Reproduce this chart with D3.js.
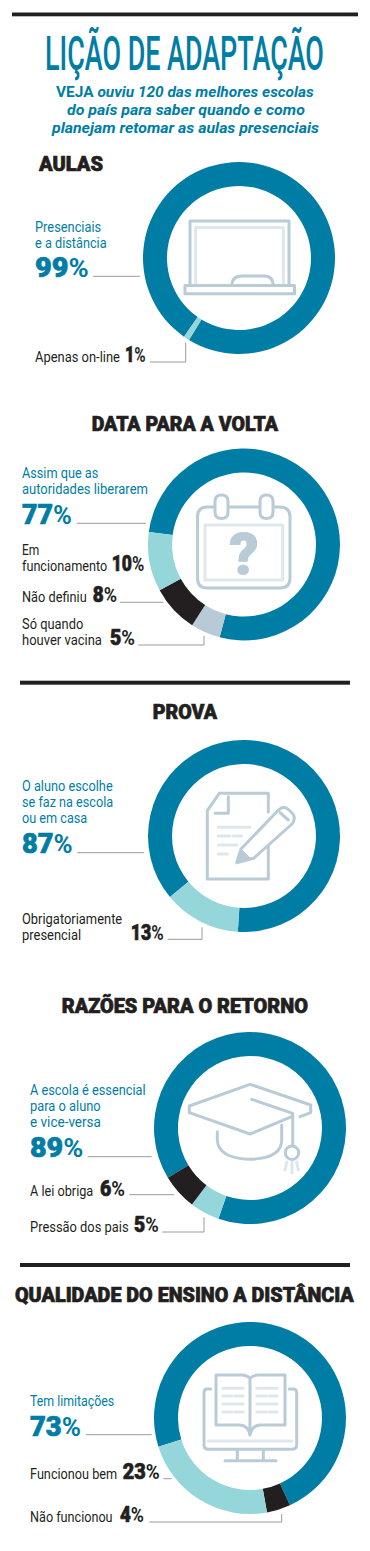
<!DOCTYPE html>
<html>
<head>
<meta charset="utf-8">
<script src="https://cdn.jsdelivr.net/npm/d3@7"></script>
<style>
html,body{margin:0;padding:0;background:#fff;}
svg{display:block;}
</style>
</head>
<body>
<script>
// values, in clockwise order round each ring
var aulasCats = [["Presenciais","e a distância"],["Apenas on-line"]];
var aulasValues = [99,1];
var voltaCats = [["Assim que as","autoridades liberarem"],["Só quando","houver vacina"],["Não definiu"],["Em","funcionamento"]];
var voltaValues = [77,5,8,10];
var provaCats = [["O aluno escolhe","se faz na escola","ou em casa"],["Obrigatoriamente","presencial"]];
var provaValues = [87,13];
var razoesCats = [["A escola é essencial","para o aluno","e vice-versa"],["Pressão dos pais"],["A lei obriga"]];
var razoesValues = [89,5,6];
var qualidadeCats = [["Tem limitações"],["Não funcionou"],["Funcionou bem"]];
var qualidadeValues = [73,4,23];
var sectionTitles = ["AULAS","DATA PARA A VOLTA","PROVA","RAZÕES PARA O RETORNO","QUALIDADE DO ENSINO A DISTÂNCIA"];

const TEAL = "#007da5", AQUA = "#94d6da", INK = "#231f20", PALE = "#b8cad5";
const ICON = "#b9cbd6", ICONLIGHT = "#dde7ec", RULE = "#8e9092";
const OUTER = 96, INNER = 72;

var svg = d3.select("body").append("svg").attr("width",370).attr("height",1551);

// draw a text, then squeeze it sideways to fit the column from x to x2
var fit = function(sel,x,x2,y){
	var w = sel.node().getComputedTextLength();
	sel.attr("transform",`translate(${x},${y}) scale(${(x2-x)/w},1)`);
	return sel;
};

var label = function(word,x,x2,y,colour){
	var t = svg.append("text").text(word)
		.attr("font-family","Roboto").attr("font-weight",400)
		.attr("font-size",15.5).attr("fill",colour);
	fit(t,x,x2,y);
};

var percent = function(value,x,x2,y,size,colour){
	var t = svg.append("text").attr("font-family","Roboto").attr("fill",colour);
	t.append("tspan").text(value).attr("font-weight",900).attr("font-size",size)
		.attr("stroke",colour).attr("stroke-width",0.7);
	t.append("tspan").text("%").attr("font-weight",700).attr("font-size",size*0.95);
	fit(t,x,x2,y);
};

var heading = function(word,x,x2,y){
	var t = svg.append("text").text(word)
		.attr("font-family","Roboto").attr("font-weight",900)
		.attr("font-size",20).attr("fill",INK)
		.attr("stroke",INK).attr("stroke-width",0.7);
	fit(t,x,x2,y);
};

var bar = function(x,x2,y,h){
	svg.append("rect").attr("x",x).attr("y",y).attr("width",x2-x).attr("height",h).attr("fill",INK);
};

var leaderLine = d3.line();
var leader = function(pts){
	svg.append("path").attr("d",leaderLine(pts))
		.attr("fill","none").attr("stroke",RULE).attr("stroke-width",0.9);
};

var ring = function(cx,cy,values,colours,startDeg){
	var start = startDeg*Math.PI/180;
	var pie = d3.pie().sort(null).startAngle(start).endAngle(start+2*Math.PI);
	var arc = d3.arc().innerRadius(INNER).outerRadius(OUTER);
	var colour = d3.scaleOrdinal().domain(d3.range(values.length)).range(colours);
	svg.append("g").attr("transform",`translate(${cx},${cy})`)
		.selectAll("path").data(pie(values)).join("path")
		.attr("d",arc).attr("fill",function(d,i){return colour(i)});
};

// one block per slice: the line columns [x,x2,y], the number [x,x2,y,size] and the leader
var drawSlice = function(cats,value,place,colour){
	cats.forEach(function(line,i){
		label(line,place.lines[i][0],place.lines[i][1],place.lines[i][2],colour);
	});
	percent(value,place.num[0],place.num[1],place.num[2],place.num[3],colour);
	if(place.leader) leader(place.leader);
};

var drawChart = function(cats,values,places,colour0){
	values.forEach(function(v,i){
		drawSlice(cats[i],v,places[i],i==0 ? colour0 : INK);
	});
};

// furniture
bar(12,358,12.5,3.8);
bar(20,350,680.7,4);
bar(20,350,1263,4);

var title = svg.append("text").text("LIÇÃO DE ADAPTAÇÃO")
	.attr("font-family","Roboto").attr("font-weight",500)
	.attr("font-size",48).attr("fill",TEAL);
fit(title,45,324,69.5);

var subtitle = function(y,x,x2,parts){
	var t = svg.append("text").attr("font-family","Roboto").attr("font-weight",700)
		.attr("font-size",14).attr("fill",TEAL);
	parts.forEach(function(p){
		t.append("tspan").text(p[0]).attr("font-style",p[1]);
	});
	fit(t,x,x2,y);
};
subtitle(96.7,56,314,[["VEJA ","normal"],["ouviu 120 das melhores escolas","italic"]]);
subtitle(114.7,67,305,[["do país para saber quando e como","italic"]]);
subtitle(132.7,52,319,[["planejam retomar as aulas presenciais","italic"]]);

heading(sectionTitles[0],39,103,171);
heading(sectionTitles[1],91.7,278,430.7);
heading(sectionTitles[2],152.7,217,719);
heading(sectionTitles[3],61.7,308,1012.7);
heading(sectionTitles[4],15,354,1301.7);

// rings
ring(239,258,aulasValues,[TEAL,AQUA],215);
ring(244,544.5,voltaValues,[TEAL,PALE,INK,AQUA],277.5);
ring(244,836,provaValues,[TEAL,AQUA],230.5);
ring(250,1128,razoesValues,[TEAL,AQUA,INK],238.8);
ring(250,1418,qualidadeValues,[TEAL,INK,AQUA],252.6);

// labels
drawChart(aulasCats,aulasValues,[
	{lines:[[35,101.3,231.7],[35,106.7,247.7]],num:[35,88.7,276.7,28],leader:[[93,276.3],[140,276.3]]},
	{lines:[[35,120,362.3]],num:[125,145.7,362.3,22],leader:[[150,362],[185.7,362],[185.7,342.7]]}
],TEAL);
drawChart(voltaCats,voltaValues,[
	{lines:[[22,98.3,478.3],[22,148,494.3]],num:[22,72,524,28],leader:[[76.7,523.3],[146,523.3]]},
	{lines:[[22,83.3,628.7],[22,102,645]],num:[110,135,645,22],leader:[[138.3,645],[204,645],[204,636]]},
	{lines:[[22,86.7,602.3]],num:[92.7,117,602.3,22],leader:[[120,602.3],[163.3,602.3]]},
	{lines:[[22,39.3,555],[22,107.3,571]],num:[111.7,144.3,571,22]}
],TEAL);
drawChart(provaCats,provaValues,[
	{lines:[[22,112.7,791.3],[22,113.3,807.3],[22,87.3,823.3]],num:[22,72.7,853.3,28],leader:[[77.3,852.7],[144,852.7]]},
	{lines:[[22,122.3,924.3],[22,81.3,940]],num:[130.7,163.7,940,22],leader:[[167.7,939.3],[202,939.3],[202,927.3]]}
],TEAL);
drawChart(razoesCats,razoesValues,[
	{lines:[[30,145.7,1095],[30,100.7,1111],[30,101,1127]],num:[30,83.3,1157.3,28],leader:[[87.7,1156.7],[151.7,1156.7]]},
	{lines:[[30,128.7,1232.3]],num:[134,158.7,1232.3,22],leader:[[162.3,1232],[204,1232],[204,1217.3]]},
	{lines:[[30,93.3,1195.7]],num:[100,125,1195.7,22],leader:[[129.3,1194.7],[174,1194.7]]}
],TEAL);
drawChart(qualidadeCats,qualidadeValues,[
	{lines:[[30,114.3,1405.7]],num:[30,81,1435.7,28],leader:[[86,1434.7],[151.7,1434.7]]},
	{lines:[[30,112.7,1522.3]],num:[120,144,1522.3,22],leader:[[149.3,1522],[281.7,1522],[281.7,1514]]},
	{lines:[[30,117.3,1479]],num:[122.7,159.7,1479,22],leader:[[163.3,1478.7],[171.7,1478.7]]}
],TEAL);

// icons in the middle of the rings
var draw = function(d,colour,width,fill){
	svg.append("path").attr("d",d).attr("fill",fill||"none")
		.attr("stroke",colour).attr("stroke-width",width===undefined ? 3 : width)
		.attr("stroke-linecap","round").attr("stroke-linejoin","round");
};

// blackboard
draw("M195.7,285V227.5H283.3V285",ICONLIGHT);
draw("M190,285V221H289V285",ICON);
draw("M232,285Q232,276 242,276H264Q273,276 273,285",ICON);
draw("M185,285.5H294.5V293.8H185Z",ICON,3,"#fff");

// calendar
draw("M207,507H280Q290,507 290,517V578Q290,588 280,588H207Q197.5,588 197.5,578V517Q197.5,507 207,507Z",ICON);
draw("M205,525H282.7V580H205Z",ICONLIGHT);
draw("M221.5,495Q228,495 228,501.5V512Q228,518.5 221.5,518.5Q215,518.5 215,512V501.5Q215,495 221.5,495Z",ICON,3,"#fff");
draw("M266.5,495Q273,495 273,501.5V512Q273,518.5 266.5,518.5Q260,518.5 260,512V501.5Q260,495 266.5,495Z",ICON,3,"#fff");
svg.append("text").text("?").attr("x",244).attr("y",573.5).attr("text-anchor","middle")
	.attr("font-family","Roboto").attr("font-weight",900).attr("font-size",57).attr("fill",ICON)
	.attr("stroke",ICON).attr("stroke-width",1.2);

// test sheet and pencil
draw("M268.3,812V793.3H219.3L207.3,810.7V879H268.3V846.7",ICON);
draw("M228.3,796.7V813.3H215",ICON);
draw("M218.3,827.3H250M218.3,836H230M233.3,836H241.7M218.3,845H236.7M218.3,854H227.3",ICONLIGHT);
draw("M236.7,862.7L241,849L279,809.5Q284,805 289,810L293,814Q296,819 292,824L254,858Z",ICON,3,"#fff");
draw("M280,812.7L288.3,820",ICON);
draw("M236.7,862.7L241,849L250,858Z",ICON,1,ICON);

// graduation cap
draw("M300,1116.7L310.7,1112.7V1105L250,1084.3L189.3,1106V1112.7L250,1134L291.7,1116.7",ICON);
draw("M251.7,1099.3L292.7,1113.3V1145",ICON);
draw("M217.3,1131.7V1140Q218.3,1158.3 250,1159.3Q281.7,1158.3 281.7,1140V1125",ICON);
draw("M286.7,1162L285,1170M292,1162V1172.7M296.7,1162L298.3,1170",ICONLIGHT);
svg.append("circle").attr("cx",292).attr("cy",1152.7).attr("r",6.7)
	.attr("fill","#fff").attr("stroke",ICON).attr("stroke-width",3);

// monitor and open book
draw("M210.7,1389H207.3Q204,1389 204,1392.7V1445Q204,1449.3 208.3,1449.3H291.7Q296.7,1449.3 296.7,1445V1392.7Q296.7,1389 292.7,1389H289.3",ICON);
draw("M208.3,1441H291.7",ICONLIGHT);
draw("M237.3,1450V1460M263.3,1450V1460M225,1460.7H276",ICON);
draw("M250,1378.3Q246.7,1375 241.7,1375H216V1425H240Q248.3,1425.7 250,1435Q251.7,1425.7 260,1425H285V1375H258.3Q253.3,1375 250,1378.3V1435",ICON);
draw("M222.7,1388.3H243.3M222.7,1396H232M235,1396H243.3M222.7,1404H243.3M222.7,1412H232M235,1412H243.3",ICONLIGHT);
draw("M256.7,1388.3H277.3M256.7,1396H266M269,1396H277.3M256.7,1404H277.3M256.7,1412H266M269,1412H277.3",ICONLIGHT);
</script>
</body>
</html>
